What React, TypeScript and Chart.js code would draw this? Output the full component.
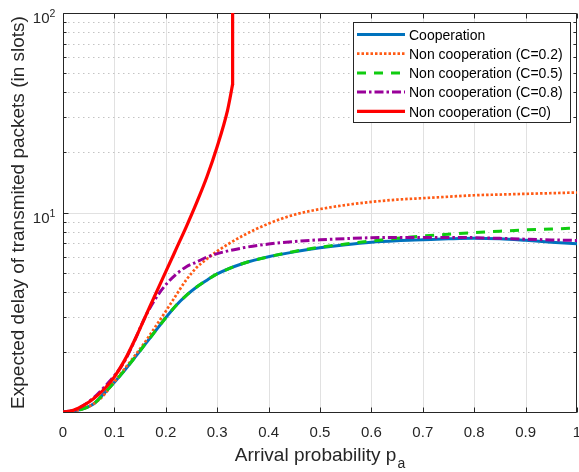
import React, { useEffect, useRef } from 'react';
import { Chart, registerables } from 'chart.js';

Chart.register(...registerables);

// ---------- data ----------
const pa = [0, 0.02, 0.04, 0.06, 0.08, 0.1, 0.12, 0.14, 0.16, 0.18, 0.2, 0.22, 0.24, 0.26, 0.28, 0.3,
  0.35, 0.4, 0.45, 0.5, 0.55, 0.6, 0.65, 0.7, 0.75, 0.8, 0.85, 0.9, 0.95, 1.0];

const cooperation = [1.0, 1.01, 1.04, 1.1, 1.24, 1.41, 1.62, 1.88, 2.19, 2.55, 2.97, 3.42, 3.84, 4.23, 4.58, 4.92,
  5.55, 6.0, 6.35, 6.65, 6.9, 7.1, 7.22, 7.3, 7.38, 7.43, 7.38, 7.25, 7.1, 6.97];

const nonCoop02 = [1.0, 1.01, 1.04, 1.1, 1.22, 1.42, 1.65, 1.92, 2.25, 2.68, 3.2, 3.85, 4.6, 5.3, 5.85, 6.4,
  7.65, 8.8, 9.75, 10.4, 10.9, 11.3, 11.6, 11.8, 12.0, 12.2, 12.3, 12.4, 12.5, 12.6];

const nonCoop05 = [1.0, 1.01, 1.04, 1.1, 1.24, 1.41, 1.62, 1.88, 2.19, 2.55, 2.97, 3.42, 3.84, 4.23, 4.58, 4.92,
  5.55, 6.0, 6.38, 6.7, 6.95, 7.2, 7.42, 7.62, 7.78, 7.93, 8.06, 8.18, 8.27, 8.35];

const nonCoop08 = [1.0, 1.02, 1.08, 1.18, 1.33, 1.52, 1.8, 2.3, 3.0, 3.7, 4.35, 4.9, 5.35, 5.65, 5.97, 6.22,
  6.65, 6.95, 7.15, 7.3, 7.4, 7.47, 7.5, 7.5, 7.5, 7.48, 7.42, 7.35, 7.29, 7.24];

const paC0 = [0, 0.02, 0.04, 0.06, 0.08, 0.1, 0.12, 0.14, 0.16, 0.18, 0.2, 0.22, 0.24, 0.26, 0.28, 0.3,
  0.32, 0.325, 0.33];
const nonCoop0 = [1.0, 1.02, 1.08, 1.17, 1.3, 1.5, 1.82, 2.31, 3.0, 3.9, 5.05, 6.55, 8.5, 11.2, 15.1, 21.4,
  32.4, 37.5, 44];
// vertical blow-up of the C=0 curve at its saturation point
const paC0Tail = [0.33, 0.33];
const nonCoop0Tail = [44, 1000];

const xTickValues = [0, 0.1, 0.2, 0.3, 0.4, 0.5, 0.6, 0.7, 0.8, 0.9, 1];
const xTickLabels = ['0', '0.1', '0.2', '0.3', '0.4', '0.5', '0.6', '0.7', '0.8', '0.9', '1'];
const yMajorTicks = [1, 10, 100];
const yMinorTicks = [2, 3, 4, 5, 6, 7, 8, 9, 20, 30, 40, 50, 60, 70, 80, 90];
const yLabeledTicks = [10, 100];

const seriesNames = [
  'Cooperation',
  'Non cooperation (C=0.2)',
  'Non cooperation (C=0.5)',
  'Non cooperation (C=0.8)',
  'Non cooperation (C=0)',
];

const xTitle = 'Arrival probability p';
const xTitleSub = 'a';
const yTitle = 'Expected delay of transmited packets (in slots)';

// ---------- styles ----------
const FONT = '"Liberation Sans", Arial, Helvetica, sans-serif';
const styles = [
  { color: '#0072BD', width: 3, dash: [] as number[] },
  { color: '#FF5A14', width: 2.7, dash: [2.5, 2] },
  { color: '#10CC10', width: 3, dash: [9, 8] },
  { color: '#990099', width: 3, dash: [9, 3, 2.5, 3] },
  { color: '#FF0000', width: 3.2, dash: [] as number[] },
];

const toPts = (xs: number[], ys: number[]) => xs.map((x, i) => ({ x, y: ys[i] }));

const decorPlugin = {
  id: 'decor',
  beforeDatasetsDraw(chart: any) {
    const { ctx, chartArea: a, scales } = chart;
    const xs = scales.x;
    const ys = scales.y;
    const xL = a.left + 0.5, xR = a.right - 0.5, yT = a.top + 0.5, yB = a.bottom + 0.5;
    ctx.save();
    ctx.lineWidth = 1;
    // major grid
    ctx.strokeStyle = '#e1e1e1';
    ctx.beginPath();
    for (const t of xTickValues) {
      if (t <= 0 || t >= 1) continue;
      const px = Math.round(xs.getPixelForValue(t)) + 0.5;
      ctx.moveTo(px, a.top);
      ctx.lineTo(px, a.bottom);
    }
    for (const v of yMajorTicks) {
      if (v === 1 || v === 100) continue;
      const py = Math.round(ys.getPixelForValue(v)) + 0.5;
      ctx.moveTo(a.left, py);
      ctx.lineTo(a.right, py);
    }
    ctx.stroke();
    // minor dotted grid
    ctx.strokeStyle = '#c4c4c4';
    ctx.setLineDash([1.5, 3.5]);
    ctx.beginPath();
    for (const v of yMinorTicks) {
      const py = Math.round(ys.getPixelForValue(v)) + 0.5;
      ctx.moveTo(a.left, py);
      ctx.lineTo(a.right, py);
    }
    ctx.stroke();
    ctx.setLineDash([]);
    // box
    ctx.strokeStyle = '#262626';
    ctx.beginPath();
    ctx.moveTo(xL, yT); ctx.lineTo(xR, yT); ctx.lineTo(xR, yB); ctx.lineTo(xL, yB); ctx.closePath();
    // ticks
    for (const t of xTickValues) {
      const px = Math.round(xs.getPixelForValue(t)) + 0.5;
      ctx.moveTo(px, yB); ctx.lineTo(px, yB - 5);
      ctx.moveTo(px, yT); ctx.lineTo(px, yT + 5);
    }
    for (const v of yMajorTicks) {
      const py = Math.round(ys.getPixelForValue(v)) + 0.5;
      ctx.moveTo(xL, py); ctx.lineTo(xL + 5, py);
      ctx.moveTo(xR, py); ctx.lineTo(xR - 5, py);
    }
    for (const v of yMinorTicks) {
      const py = Math.round(ys.getPixelForValue(v)) + 0.5;
      ctx.moveTo(xL, py); ctx.lineTo(xL + 3, py);
      ctx.moveTo(xR, py); ctx.lineTo(xR - 3, py);
    }
    ctx.stroke();
    ctx.restore();
  },
  afterDatasetsDraw(chart: any) {
    const { ctx, chartArea: a, scales } = chart;
    const xs = scales.x;
    const ys = scales.y;
    ctx.save();
    ctx.fillStyle = '#262626';
    // x tick labels
    ctx.font = `15px ${FONT}`;
    ctx.textAlign = 'center';
    ctx.textBaseline = 'alphabetic';
    xTickValues.forEach((t, i) => {
      ctx.fillText(xTickLabels[i], xs.getPixelForValue(t), a.bottom + 24.5);
    });
    // y tick labels (10^n)
    for (const v of yLabeledTicks) {
      const py = ys.getPixelForValue(v);
      ctx.font = `15px ${FONT}`;
      ctx.textAlign = 'right';
      ctx.fillText('10', 49.5, py + 10);
      ctx.font = `10.5px ${FONT}`;
      ctx.textAlign = 'left';
      ctx.fillText(String(Math.round(Math.log10(v))), 49.5, py + 4);
    }
    // x title
    ctx.font = `19px ${FONT}`;
    const wMain = ctx.measureText(xTitle).width;
    ctx.font = `14px ${FONT}`;
    const wSub = ctx.measureText(xTitleSub).width;
    const cx = (a.left + a.right) / 2;
    const x0 = cx - (wMain + wSub + 1) / 2;
    ctx.textAlign = 'left';
    ctx.font = `19px ${FONT}`;
    ctx.fillText(xTitle, x0, 461);
    ctx.font = `14px ${FONT}`;
    ctx.fillText(xTitleSub, x0 + wMain + 1, 468);
    // y title
    ctx.save();
    ctx.translate(24, (a.top + a.bottom) / 2);
    ctx.rotate(-Math.PI / 2);
    ctx.font = `19px ${FONT}`;
    ctx.textAlign = 'center';
    ctx.fillText(yTitle, 0, 0);
    ctx.restore();

    // legend
    const bx = 353.5, by = 22.5, bw = 217, bh = 100;
    ctx.fillStyle = '#ffffff';
    ctx.fillRect(bx, by, bw, bh);
    ctx.strokeStyle = '#262626';
    ctx.lineWidth = 1;
    ctx.strokeRect(bx, by, bw, bh);
    ctx.font = `14px ${FONT}`;
    ctx.textAlign = 'left';
    seriesNames.forEach((name, i) => {
      const ly = 34.5 + 19.2 * i;
      const st = styles[i];
      ctx.strokeStyle = st.color;
      ctx.lineWidth = st.width;
      ctx.setLineDash(st.dash);
      ctx.lineCap = 'butt';
      ctx.beginPath();
      ctx.moveTo(357, ly);
      ctx.lineTo(405, ly);
      ctx.stroke();
      ctx.setLineDash([]);
      ctx.fillStyle = '#000000';
      ctx.fillText(name, 409, ly + 5.2);
    });
    ctx.restore();
  },
};

export default function App() {
  const ref = useRef<HTMLCanvasElement>(null);
  useEffect(() => {
    const seriesData = [
      toPts(pa, cooperation),
      toPts(pa, nonCoop02),
      toPts(pa, nonCoop05),
      toPts(pa, nonCoop08),
      toPts(paC0, nonCoop0),
    ];
    const datasets: any[] = seriesNames.map((name, i) => ({
      label: name,
      data: seriesData[i],
      borderColor: styles[i].color,
      backgroundColor: styles[i].color,
      borderWidth: styles[i].width,
      borderDash: styles[i].dash,
      borderCapStyle: 'butt',
      borderJoinStyle: 'round',
      pointRadius: 0,
      pointHoverRadius: 0,
      fill: false,
      cubicInterpolationMode: 'monotone',
      order: 5 - i,
    }));
    datasets.push({
      label: seriesNames[4] + ' tail',
      data: toPts(paC0Tail, nonCoop0Tail),
      borderColor: styles[4].color,
      borderWidth: styles[4].width,
      borderCapStyle: 'round',
      pointRadius: 0,
      pointHoverRadius: 0,
      fill: false,
      tension: 0,
      order: 0,
    });
    const chart = new Chart(ref.current as HTMLCanvasElement, {
      type: 'line',
      data: { datasets },
      options: {
        animation: false,
        responsive: false,
        devicePixelRatio: 1,
        events: [],
        layout: { padding: { top: 13, right: 2, left: 0, bottom: 0 } },
        plugins: {
          legend: { display: false },
          tooltip: { enabled: false },
          title: { display: false },
        },
        scales: {
          x: {
            type: 'linear',
            min: 0,
            max: 1,
            ticks: { display: false },
            grid: { display: false },
            border: { display: false },
            afterFit: (s: any) => { s.height = 60; },
          },
          y: {
            type: 'logarithmic',
            min: 1,
            max: 100,
            ticks: { display: false },
            grid: { display: false },
            border: { display: false },
            afterFit: (s: any) => { s.width = 63; },
          },
        },
      } as any,
      plugins: [decorPlugin],
    });
    return () => chart.destroy();
  }, []);
  return (
    <div style={{ position: 'absolute', left: 0, top: 0, width: 579, height: 472, background: '#fff' }}>
      <canvas ref={ref} width={579} height={472} style={{ display: 'block', width: 579, height: 472 }} />
    </div>
  );
}
